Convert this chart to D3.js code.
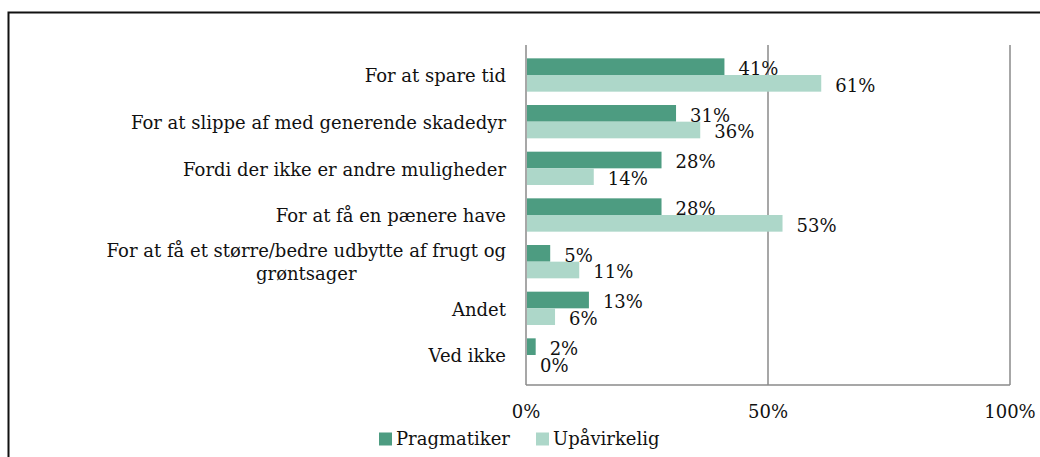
<!DOCTYPE html>
<meta charset="utf-8">
<style>
body { margin: 0; background: #fff; }
text { font-family: "DejaVu Serif", Georgia, serif; fill: #111; }
</style>
<body>
<div id="chart"></div>
<script src="https://d3js.org/d3.v7.min.js"></script>
<script>

// categories (each entry = lines of the label)
var categories = [
  ["For at spare tid"],
  ["For at slippe af med generende skadedyr"],
  ["Fordi der ikke er andre muligheder"],
  ["For at få en pænere have"],
  ["For at få et større/bedre udbytte af frugt og", "grøntsager"],
  ["Andet"],
  ["Ved ikke"]
];
var seriesNames = ["Pragmatiker", "Upåvirkelig"];
var pragmatiker = [41, 31, 28, 28, 5, 13, 2];
var upaavirkelig = [61, 36, 14, 53, 11, 6, 0];
var tickValues = [0, 50, 100];
var colors = ["#4d9c81", "#add7c9"];

var width = 1040,
    height = 457;
var fontSize = 18;

var svg = d3.select("#chart").append("svg")
    .attr("width", width)
    .attr("height", height);

// outer frame (runs off the right/bottom edge)
svg.append("rect")
    .attr("x", 8.5).attr("y", 12.5)
    .attr("width", 1100).attr("height", 600)
    .attr("fill", "none")
    .attr("stroke", "#111")
    .attr("stroke-width", 2);

var x = d3.scaleLinear().domain([0, 100]).range([526, 1010]);
var y = d3.scaleBand().domain(d3.range(categories.length)).range([45, 385]).padding(0.286);
var ySub = d3.scaleBand().domain([0, 1]).range([0, y.bandwidth()]);

// grid lines
svg.selectAll(".grid")
    .data(tickValues)
    .enter().append("line")
    .attr("class", "grid")
    .attr("x1", d => x(d)).attr("x2", d => x(d))
    .attr("y1", 45).attr("y2", 385)
    .attr("stroke", "#8a8a8a")
    .attr("stroke-width", 1.5);

svg.append("line")
    .attr("x1", x(0)).attr("x2", x(100))
    .attr("y1", 385).attr("y2", 385)
    .attr("stroke", "#8a8a8a")
    .attr("stroke-width", 1.5);

// bars
var rows = categories.map((c, i) => [pragmatiker[i], upaavirkelig[i]]);

var groups = svg.selectAll(".row")
    .data(rows)
    .enter().append("g")
    .attr("class", "row")
    .attr("transform", (d, i) => "translate(0," + y(i) + ")");

groups.selectAll("rect")
    .data(d => d)
    .enter().append("rect")
    .attr("x", x(0) + 1)
    .attr("y", (d, j) => ySub(j))
    .attr("width", d => Math.max(0, x(d) - x(0) - 1))
    .attr("height", ySub.bandwidth())
    .attr("fill", (d, j) => colors[j]);

groups.selectAll(".val")
    .data(d => d)
    .enter().append("text")
    .attr("class", "val")
    .attr("x", d => x(d) + 14)
    .attr("y", (d, j) => ySub(j) + ySub.bandwidth() / 2 + 2)
    .attr("dy", "0.35em")
    .attr("font-size", fontSize)
    .text(d => d + "%");

// category labels
var labelRight = 506;
categories.forEach(function(lines, i) {
  var cy = y(i) + y.bandwidth() / 2 + 1;
  var lh = 23;
  var g = svg.append("g");
  var texts = g.selectAll("text")
      .data(lines)
      .enter().append("text")
      .attr("font-size", fontSize)
      .attr("dy", "0.35em")
      .attr("y", (d, k) => cy + (k - (lines.length - 1) / 2) * lh)
      .text(d => d);
  var maxW = d3.max(texts.nodes(), n => n.getComputedTextLength());
  texts.attr("text-anchor", "middle").attr("x", labelRight - maxW / 2);
});

// x tick labels
svg.selectAll(".tick")
    .data(tickValues)
    .enter().append("text")
    .attr("class", "tick")
    .attr("x", d => x(d))
    .attr("y", 412)
    .attr("dy", "0.35em")
    .attr("text-anchor", "middle")
    .attr("font-size", fontSize)
    .text(d => d + "%");

// legend
var legendX = [379, 536];
var legend = svg.selectAll(".legend")
    .data(seriesNames)
    .enter().append("g")
    .attr("class", "legend")
    .attr("transform", (d, i) => "translate(" + legendX[i] + ",439)");

legend.append("rect")
    .attr("x", 0).attr("y", -6.5)
    .attr("width", 13).attr("height", 13)
    .attr("fill", (d, i) => colors[i]);

legend.append("text")
    .attr("x", 17)
    .attr("dy", "0.35em")
    .attr("font-size", fontSize)
    .text(d => d);

</script>
